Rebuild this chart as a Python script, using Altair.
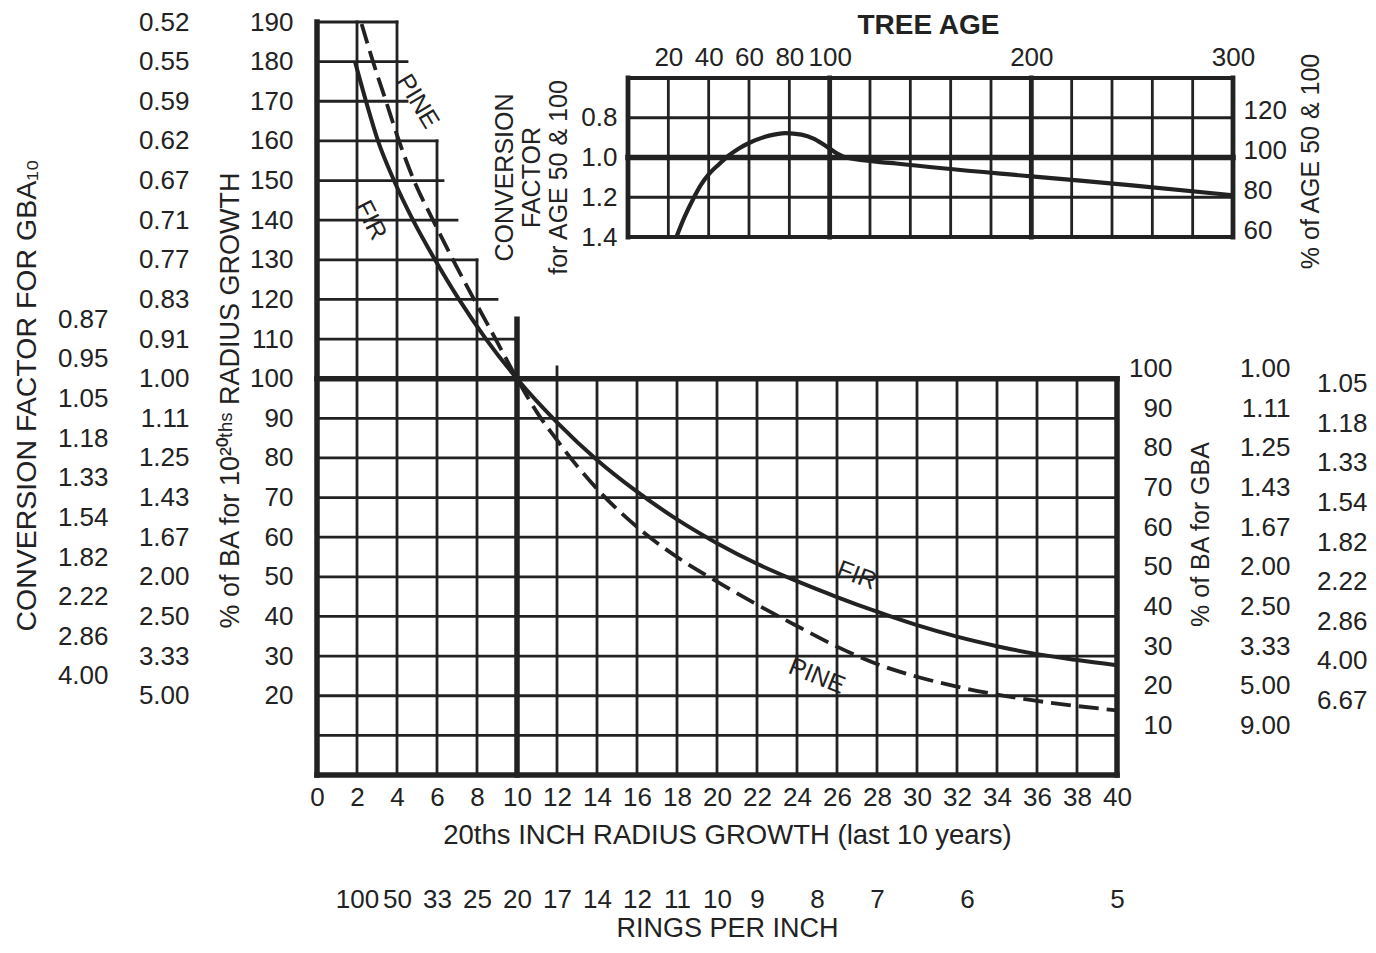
import json
import altair as alt
import pandas as pd

FONT = "Liberation Sans"
INK = "#222222"

# ---------------- main chart data: % of BA vs 20ths inch radius growth ----------------
fir_growth = [1.9, 2.45, 3.05, 3.85, 4.8, 5.9, 7.1, 8.45, 10, 12, 14, 16, 18, 20, 22, 24, 26, 28, 30, 32, 34, 36, 38, 40]
fir_pct = [180, 170, 160, 150, 140, 130, 120, 110, 100, 89, 79.5, 71.5, 64.5, 58.5, 53.3, 48.9, 44.9, 41.2, 37.8, 34.9, 32.5, 30.5, 29.0, 27.7]
pine_growth = [2.23, 2.8, 3.45, 4.1, 4.85, 5.8, 6.8, 7.85, 8.93, 10, 11, 12, 13, 14, 16, 18, 20, 22, 24, 26, 28, 30, 32, 34, 36, 38, 40]
pine_pct = [189.5, 180, 170, 160, 150, 140, 130, 120, 110, 100, 91.5, 84.5, 78, 72.2, 62.6, 55, 48.8, 43, 37.6, 32.4, 28, 24.8, 22.3, 20.3, 18.7, 17.4, 16.3]

# ---------------- inset data: conversion factor vs tree age ----------------
tree_age = [24, 28, 32, 36, 40, 45, 50, 55, 60, 70, 78, 86, 92, 97, 100, 104, 108, 133, 200, 250, 300]
age_factor = [1.40, 1.30, 1.215, 1.14, 1.085, 1.035, 0.99, 0.955, 0.927, 0.89, 0.877, 0.885, 0.905, 0.935, 0.955, 0.982, 1.0, 1.03, 1.095, 1.14, 1.19]

# ---------------- curve name labels ----------------
note_text = ["PINE", "FIR", "FIR", "PINE"]
note_growth = [5.05, 2.7, 27.0, 25.0]
note_pct = [170, 140, 50.4, 25]
note_angle = [59, 63, 21, 22]

# ---------------- tick values / labels ----------------
growth_ticks = [0, 2, 4, 6, 8, 10, 12, 14, 16, 18, 20, 22, 24, 26, 28, 30, 32, 34, 36, 38, 40]
ring_pos = [2, 4, 6, 8, 10, 12, 14, 16, 18, 20, 22, 25, 28, 32.5, 40]
ring_labels = ["100", "50", "33", "25", "20", "17", "14", "12", "11", "10", "9", "8", "7", "6", "5"]
pct_ticks = [20, 30, 40, 50, 60, 70, 80, 90, 100, 110, 120, 130, 140, 150, 160, 170, 180, 190]
pct_inv_labels = ["5.00", "3.33", "2.50", "2.00", "1.67", "1.43", "1.25", "1.11", "1.00",
                  "0.91", "0.83", "0.77", "0.71", "0.67", "0.62", "0.59", "0.55", "0.52"]
gba10_pos = [25, 35, 45, 55, 65, 75, 85, 95, 105, 115]
gba10_labels = ["4.00", "2.86", "2.22", "1.82", "1.54", "1.33", "1.18", "1.05", "0.95", "0.87"]
gba_ticks = [10, 20, 30, 40, 50, 60, 70, 80, 90, 100]
gba_inv_labels = ["9.00", "5.00", "3.33", "2.50", "2.00", "1.67", "1.43", "1.25", "1.11", "1.00"]
gba_mid_pos = [15, 25, 35, 45, 55, 65, 75, 85, 95]
gba_mid_labels = ["6.67", "4.00", "2.86", "2.22", "1.82", "1.54", "1.33", "1.18", "1.05"]
age_ticks = [20, 40, 60, 80, 100, 200, 300]
factor_ticks = [0.8, 1.0, 1.2, 1.4]
age_pct_ticks = [60, 80, 100, 120]

# ---------------- grid (data units) ----------------
h_thin = [10, 20, 30, 40, 50, 60, 70, 80, 90, 110, 120, 130, 140, 150, 160, 170, 180, 190]
h_thin_end = [40, 40, 40, 40, 40, 40, 40, 40, 40, 10, 9, 8, 7, 6.3, 6, 4.5, 4.5, 4]
h_thick = [0, 100]
h_thick_end = [40, 40]
v_thin = [2, 4, 6, 8, 12, 14, 16, 18, 20, 22, 24, 26, 28, 30, 32, 34, 36, 38]
v_thin_top = [190, 190, 160, 130, 103, 100, 100, 100, 100, 100, 100, 100, 100, 100, 100, 100, 100, 100]
v_thick = [0, 10, 40]
v_thick_top = [190, 115, 100]

inset_v_thin = [20, 40, 60, 80, 120, 140, 160, 180, 220, 240, 260, 280]
inset_v_thick = [0, 100, 200, 300]
inset_h_thin = [0.8, 1.2]
inset_h_border = [0.6, 1.4]
inset_h_thick = [1.0]


def sx():
    return alt.Scale(domain=[0, 40], range=[0, 800], nice=False, zero=False)


def sy():
    return alt.Scale(domain=[0, 190], range=[753, 0], nice=False, zero=False)


def s_age():
    return alt.Scale(domain=[0, 300], range=[311, 916], nice=False, zero=False)


def s_fac():
    return alt.Scale(domain=[0.6, 1.4], range=[56, 215], nice=False, zero=False)


def s_apct():
    return alt.Scale(domain=[56.5, 136], range=[215, 56], nice=False, zero=False)


def lookup_expr(vals, labs):
    return f"{json.dumps(labs)}[indexof({json.dumps(vals)}, datum.value)]"


AX = dict(domain=False, ticks=False, tickSize=0, grid=False, labelFont=FONT, labelFontSize=26,
          labelColor=INK, titleFont=FONT, titleColor=INK, titleFontWeight="normal",
          labelFlush=False, labelOverlap=False)


def x_axis_layer(vals, scale, **kw):
    df = pd.DataFrame({"v": vals})
    return alt.Chart(df).mark_point(opacity=0).encode(
        x=alt.X("v:Q", scale=scale, axis=alt.Axis(**{**AX, **kw})))


def y_axis_layer(vals, scale, **kw):
    df = pd.DataFrame({"v": vals})
    return alt.Chart(df).mark_point(opacity=0).encode(
        y=alt.Y("v:Q", scale=scale, axis=alt.Axis(**{**AX, **kw})))


def hrules(ys, x1, x2, xs, ys_scale, w):
    df = pd.DataFrame({"y": ys, "a": x1, "b": x2})
    return alt.Chart(df).mark_rule(color=INK, strokeWidth=w, strokeCap="square").encode(
        x=alt.X("a:Q", scale=xs, axis=None), x2="b:Q",
        y=alt.Y("y:Q", scale=ys_scale, axis=None))


def vrules(xs_vals, y1, y2, xs, ys_scale, w):
    df = pd.DataFrame({"x": xs_vals, "a": y1, "b": y2})
    return alt.Chart(df).mark_rule(color=INK, strokeWidth=w, strokeCap="square").encode(
        y=alt.Y("a:Q", scale=ys_scale, axis=None), y2="b:Q",
        x=alt.X("x:Q", scale=xs, axis=None))


THIN = 2.8
layers = []

# main grid
layers.append(hrules(h_thin, [0] * len(h_thin), h_thin_end, sx(), sy(), THIN))
layers.append(vrules(v_thin, [0] * len(v_thin), v_thin_top, sx(), sy(), THIN))
layers.append(hrules(h_thick, [0] * len(h_thick), h_thick_end, sx(), sy(), 5.5))
layers.append(vrules(v_thick, [0] * len(v_thick), v_thick_top, sx(), sy(), 5.5))

# inset grid
layers.append(vrules(inset_v_thin, [0.6] * len(inset_v_thin), [1.4] * len(inset_v_thin), s_age(), s_fac(), THIN))
layers.append(vrules(inset_v_thick, [0.6] * len(inset_v_thick), [1.4] * len(inset_v_thick), s_age(), s_fac(), 4.8))
layers.append(hrules(inset_h_thin, [0] * len(inset_h_thin), [300] * len(inset_h_thin), s_age(), s_fac(), THIN))
layers.append(hrules(inset_h_border, [0] * len(inset_h_border), [300] * len(inset_h_border), s_age(), s_fac(), 3.8))
layers.append(hrules(inset_h_thick, [0], [300], s_age(), s_fac(), 5.5))

# curves
fir_df = pd.DataFrame({"g": fir_growth, "p": fir_pct})
pine_df = pd.DataFrame({"g": pine_growth, "p": pine_pct})
layers.append(alt.Chart(fir_df).mark_line(color=INK, strokeWidth=4, interpolate="monotone").encode(
    x=alt.X("g:Q", scale=sx(), axis=None), y=alt.Y("p:Q", scale=sy(), axis=None)))
layers.append(alt.Chart(pine_df).mark_line(color=INK, strokeWidth=3.8, strokeDash=[20, 8],
                                           interpolate="monotone").encode(
    x=alt.X("g:Q", scale=sx(), axis=None), y=alt.Y("p:Q", scale=sy(), axis=None)))

inset_df = pd.DataFrame({"age": tree_age, "f": age_factor})
layers.append(alt.Chart(inset_df).mark_line(color=INK, strokeWidth=4.2, interpolate="monotone").encode(
    x=alt.X("age:Q", scale=s_age(), axis=None), y=alt.Y("f:Q", scale=s_fac(), axis=None)))

notes_df = pd.DataFrame({"t": note_text, "g": note_growth, "p": note_pct, "ang": note_angle})
layers.append(alt.Chart(notes_df).mark_text(font=FONT, fontSize=25, color=INK).encode(
    x=alt.X("g:Q", scale=sx(), axis=None), y=alt.Y("p:Q", scale=sy(), axis=None),
    text="t:N", angle=alt.Angle("ang:Q", scale=None)))

# ---------------- axes ----------------
# bottom: 20ths inch radius growth
layers.append(x_axis_layer(growth_ticks, sx(), orient="bottom", values=growth_ticks, labelPadding=9,
                           title="20ths INCH RADIUS GROWTH (last 10 years)", titleFontSize=27.5,
                           titleX=410, titleY=60, titleBaseline="middle", titleAlign="center"))
# bottom: rings per inch
layers.append(x_axis_layer(ring_pos, sx(), orient="bottom", values=ring_pos, offset=109, labelPadding=2,
                           labelExpr=lookup_expr(ring_pos, ring_labels),
                           title="RINGS PER INCH", titleFontSize=27,
                           titleX=410, titleY=44, titleBaseline="middle", titleAlign="center"))
# left: % of BA for 10 20ths radius growth
layers.append(y_axis_layer(pct_ticks, sy(), orient="left", values=pct_ticks, labelPadding=24,
                           title="% of BA for 10²⁰ᵗʰˢ RADIUS GROWTH", titleFontSize=27,
                           titleAngle=270, titleX=-87, titleY=378, titleBaseline="middle",
                           titleAlign="center"))
# left: reciprocal column
layers.append(y_axis_layer(pct_ticks, sy(), orient="left", values=pct_ticks, offset=128, labelPadding=0,
                           labelExpr=lookup_expr(pct_ticks, pct_inv_labels), title=None))
# left: conversion factor for GBA10
layers.append(y_axis_layer(gba10_pos, sy(), orient="left", values=gba10_pos, offset=209, labelPadding=0,
                           labelExpr=lookup_expr(gba10_pos, gba10_labels),
                           title="CONVERSION FACTOR FOR GBA₁₀", titleFontSize=28.5,
                           titleAngle=270, titleX=-82, titleY=373, titleBaseline="middle",
                           titleAlign="center"))
# right: % of BA for GBA
layers.append(y_axis_layer(gba_ticks, sy(), orient="right", values=gba_ticks, offset=-61, labelPadding=0,
                           labelAlign="right", labelOffset=-10,
                           title="% of BA for GBA", titleFontSize=25,
                           titleAngle=270, titleX=28, titleY=512, titleBaseline="middle",
                           titleAlign="center"))
layers.append(y_axis_layer(gba_ticks, sy(), orient="right", values=gba_ticks, offset=57, labelPadding=0,
                           labelAlign="right", labelOffset=-10,
                           labelExpr=lookup_expr(gba_ticks, gba_inv_labels), title=None))
layers.append(y_axis_layer(gba_mid_pos, sy(), orient="right", values=gba_mid_pos, offset=134, labelPadding=0,
                           labelAlign="right", labelOffset=-15,
                           labelExpr=lookup_expr(gba_mid_pos, gba_mid_labels), title=None))
# inset: tree age (top)
layers.append(x_axis_layer(age_ticks, s_age(), orient="top", values=age_ticks, offset=-56, labelPadding=8,
                           title="TREE AGE", titleFontSize=28, titleFontWeight="bold",
                           titleX=611, titleY=-53, titleBaseline="middle", titleAlign="center"))
# inset: conversion factor (left)
layers.append(y_axis_layer(factor_ticks, s_fac(), orient="left", values=factor_ticks, offset=-311,
                           labelPadding=11, format=".1f",
                           title=["CONVERSION", "FACTOR", "for AGE 50 & 100"], titleFontSize=25,
                           titleLineHeight=27, titleAngle=270, titleX=-124, titleY=155,
                           titleBaseline="middle", titleAlign="center"))
# inset: % of age 50 & 100 (right)
layers.append(y_axis_layer(age_pct_ticks, s_apct(), orient="right", values=age_pct_ticks, offset=0,
                           labelPadding=10, labelAlign="left",
                           title="% of AGE 50 & 100", titleFontSize=25,
                           titleAngle=270, titleX=77, titleY=139, titleBaseline="middle",
                           titleAlign="center"))

chart = alt.layer(*layers).resolve_scale(x="independent", y="independent").properties(
    width=916, height=753,
    autosize=alt.AutoSizeParams(type="none"),
    padding={"left": 309, "top": 14, "right": 135, "bottom": 170},
    background="white",
).configure_view(stroke=None)

chart.save("out.html", embed_options={"renderer": "svg", "actions": False})
